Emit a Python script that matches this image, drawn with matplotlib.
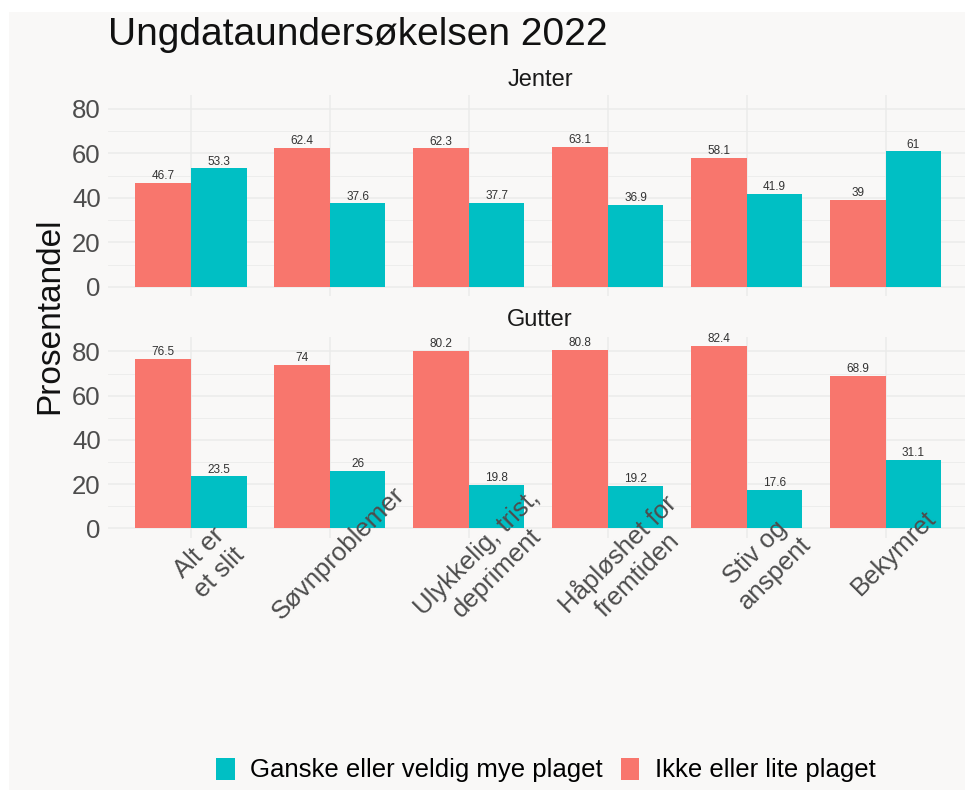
import numpy as np
import matplotlib
matplotlib.use("Agg")
import matplotlib.pyplot as plt
import matplotlib.transforms as mtransforms
from matplotlib.patches import Rectangle, Patch

plt.rcParams['font.family'] = ['Liberation Sans', 'DejaVu Sans']

# data
kategorier = ["Alt er\net slit", "Søvnproblemer", "Ulykkelig, trist,\ndepriment",
              "Håpløshet for\nfremtiden", "Stiv og\nanspent", "Bekymret"]
jenter_ikke = [46.7, 62.4, 62.3, 63.1, 58.1, 39]
jenter_ganske = [53.3, 37.6, 37.7, 36.9, 41.9, 61]
gutter_ikke = [76.5, 74, 80.2, 80.8, 82.4, 68.9]
gutter_ganske = [23.5, 26, 19.8, 19.2, 17.6, 31.1]
yticks = [0, 20, 40, 60, 80]

RED = "#F8766D"
TEAL = "#00BFC4"
BG = "#f9f8f7"
GRID = "#ebebea"

W, H = 965, 790
fig = plt.figure(figsize=(W / 100, H / 100), dpi=100)
fig.patch.set_facecolor("white")
fig.patches.append(Rectangle((9 / W, 0), 1, 1 - 12 / H, transform=fig.transFigure,
                             facecolor=BG, edgecolor="none", zorder=-10))

def px_axes(left, right, top, bottom):
    return fig.add_axes([left / W, 1 - bottom / H, (right - left) / W, (bottom - top) / H])

ax_top = px_axes(107.6, 969, 94.5, 296)
ax_bot = px_axes(107.6, 969, 337, 537.6)

x = np.arange(len(kategorier))
bw = 0.4
ymax = max(max(gutter_ikke), max(jenter_ganske))

for ax, ikke, ganske in [(ax_top, jenter_ikke, jenter_ganske), (ax_bot, gutter_ikke, gutter_ganske)]:
    ax.set_facecolor("none")
    b1 = ax.bar(x - bw / 2, ikke, width=bw, color=RED, zorder=3)
    b2 = ax.bar(x + bw / 2, ganske, width=bw, color=TEAL, zorder=3)
    for bars, vals in [(b1, ikke), (b2, ganske)]:
        for b, v in zip(bars, vals):
            ax.annotate(f"{v:g}", (b.get_x() + b.get_width() / 2, v), xytext=(0, 0.5),
                        textcoords="offset points", ha="center", va="bottom",
                        fontsize=8.5, color="#333333", zorder=4)
    ax.set_xlim(-0.6, len(kategorier) - 0.4)
    ax.set_ylim(-0.05 * ymax, 1.05 * ymax)
    ax.set_yticks(yticks)
    ax.set_yticks([10, 30, 50, 70], minor=True)
    ax.set_xticks(x)
    ax.set_xticklabels([])
    ax.grid(True, which="major", color=GRID, lw=1.1, zorder=0)
    ax.grid(True, which="minor", axis="y", color=GRID, lw=0.6, zorder=0)
    for s in ax.spines.values():
        s.set_visible(False)
    ax.tick_params(which="both", length=0, labelsize=18.5, labelcolor="#4d4d4d", pad=5)

# x labels drawn on top of the bars (like ggplot)
trans = mtransforms.offset_copy(ax_bot.get_xaxis_transform(), fig=fig, x=0, y=-5, units="points")
for xi, lab in zip(x, kategorier):
    ax_bot.text(xi, 0, lab, transform=trans, rotation=45, rotation_mode="anchor",
                ha="center", va="top", multialignment="center", fontsize=18.5,
                color="#4d4d4d", zorder=10, clip_on=False)

fig.text(108 / W, 1 - 35 / H, "Ungdataundersøkelsen 2022", fontsize=28, va="center", ha="left", color="#111111")
fig.text(540 / W, 1 - 80 / H, "Jenter", fontsize=17, va="center", ha="center", color="#1a1a1a")
fig.text(540 / W, 1 - 320 / H, "Gutter", fontsize=17, va="center", ha="center", color="#1a1a1a")
fig.text(50 / W, 1 - 316 / H, "Prosentandel", fontsize=24, rotation=90, va="center", ha="center", color="#111111")

handles = [Patch(facecolor=TEAL), Patch(facecolor=RED)]
fig.legend(handles, ["Ganske eller veldig mye plaget", "Ikke eller lite plaget"],
           loc="center", bbox_to_anchor=(546 / W, 1 - 770 / H), ncol=2, frameon=False,
           fontsize=18.5, handlelength=0.72, handleheight=0.95, handletextpad=0.6,
           columnspacing=0.7)

fig.savefig("out.png", dpi=100)
